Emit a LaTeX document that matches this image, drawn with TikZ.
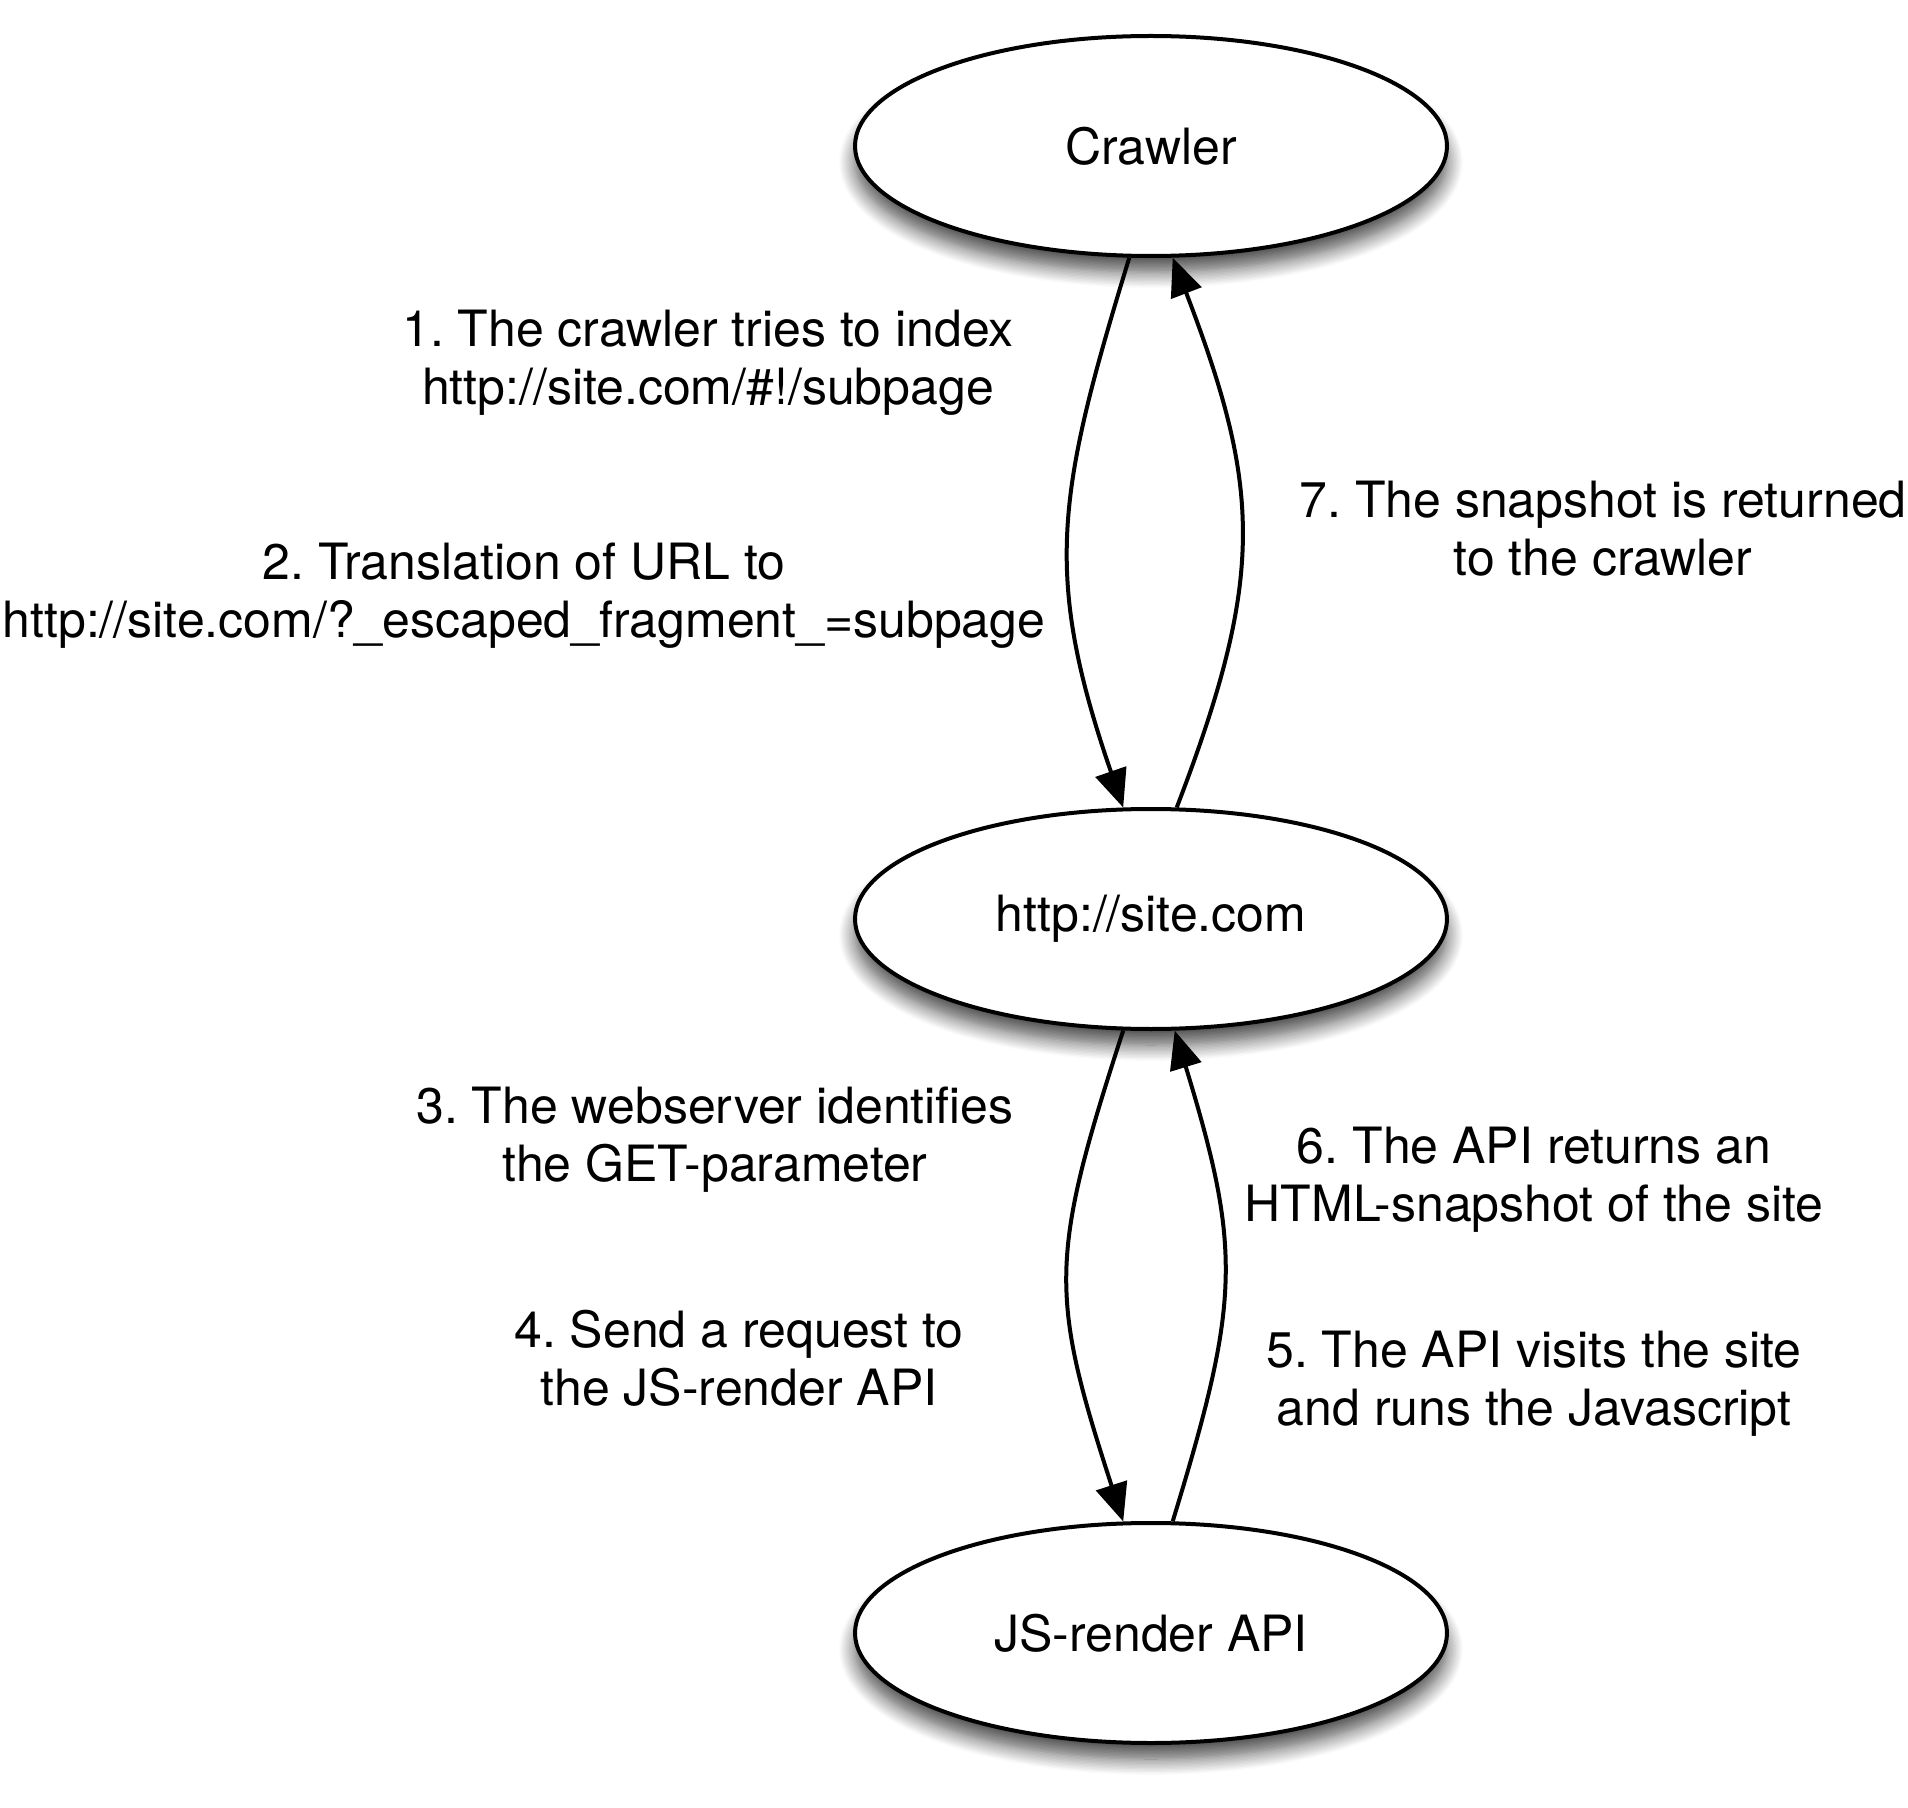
\documentclass[tikz,border=0pt]{standalone}
\usepackage{fontspec}
\setmainfont{TeX Gyre Heros}
\usetikzlibrary{arrows.meta}
\usetikzlibrary{shapes}
\usetikzlibrary{shadows.blur}

\tikzset{
  station/.style={ellipse, draw, line width=2pt, fill=white,
    minimum width=296pt, minimum height=110pt, inner sep=0pt,
    blur shadow={shadow xshift=0pt, shadow yshift=-8pt, shadow blur radius=8pt,
      shadow blur steps=12, shadow opacity=70},
    font=\fontsize{25}{29}\selectfont},
  caption/.style={align=center, inner sep=0pt, font=\fontsize{25}{29}\selectfont},
  hop/.style={line width=2pt, -{Triangle[length=19pt,width=16pt]}}
}
\frenchspacing

\begin{document}
\begin{tikzpicture}[x=0.5pt,y=0.5pt,yscale=-1,xscale=1]
\useasboundingbox (0,0) rectangle (1908,1808);

\node[station] (crawler) at (1151,146) {Crawler};
\node[station] (site) at (1151,919) {http://site.com};
\node[station] (render) at (1151,1633) {JS-render API};

\draw[hop] (crawler.-101) to[out=107,in=-109,looseness=1.15] (site.104);
\draw[hop] (site.77) to[out=-69,in=69,looseness=1.15] (crawler.-79);
\draw[hop] (site.-104) to[out=108,in=-108,looseness=1.25] (render.104);
\draw[hop] (render.79) to[out=-73,in=73,looseness=1.2] (site.-78);

\node[caption] (step1) at (708,363) {1. The crawler tries to index\\http://site.com/\#!/subpage};
\node[caption] (step2) at (524,596) {2. Translation of URL to\\http://site.com/?\_escaped\_fragment\_=subpage};
\node[caption] (step3) at (715,1140) {3. The webserver identifies\\the GET-parameter};
\node[caption] (step4) at (739,1358) {4. Send a request to\\the JS-render API};
\node[caption] (step5) at (1534,1384) {5. The API visits the site\\and runs the Javascript};
\node[caption] (step6) at (1534,1180) {6. The API returns an\\HTML-snapshot of the site};
\node[caption] (step7) at (1603,529) {7. The snapshot is returned\\to the crawler};

\end{tikzpicture}
\end{document}
